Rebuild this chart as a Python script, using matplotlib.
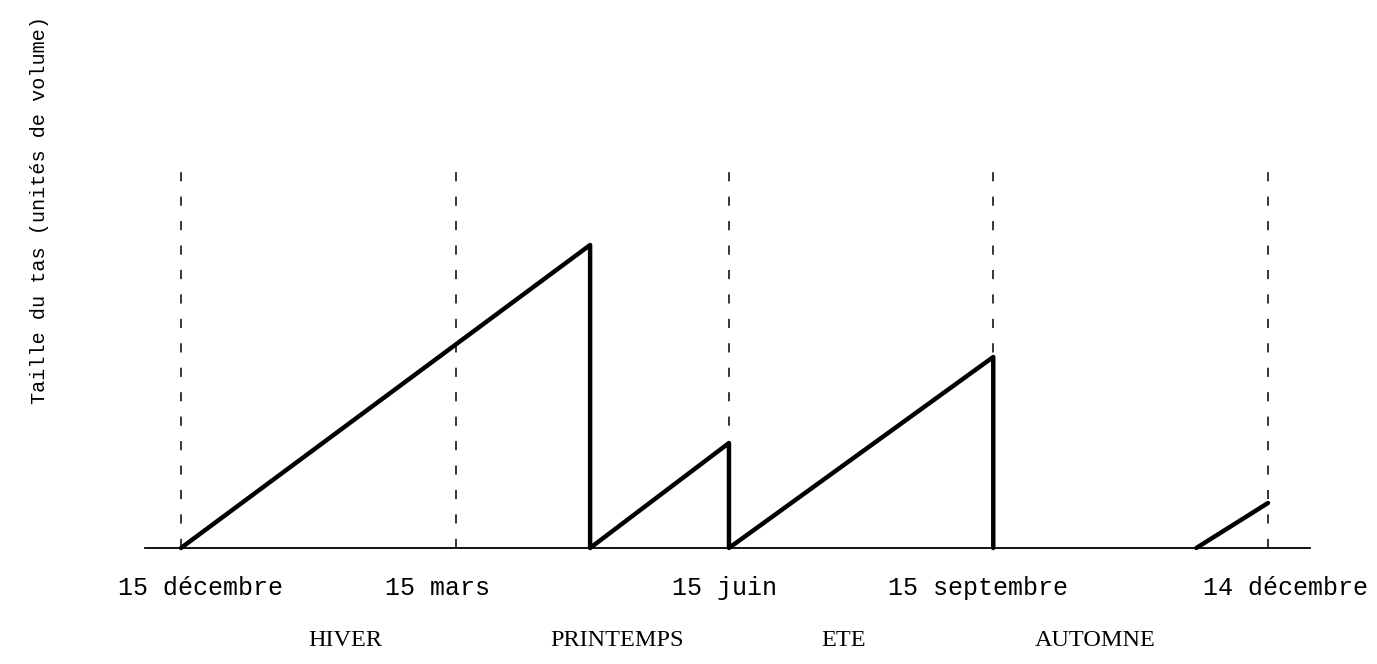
import matplotlib
matplotlib.use('Agg')
import matplotlib.pyplot as plt

# time axis in days counted from 15 decembre
tick_days = [0, 92, 183.5, 272, 364]
tick_labels = ['15 décembre', '15 mars', '15 juin', '15 septembre', '14 décembre']
seasons = ['HIVER', 'PRINTEMPS', 'ETE', 'AUTOMNE']

# heap size (arbitrary volume units)
saw_days = [0, 137, 137, 183.5, 183.5, 272, 272]
saw_size = [0, 3.03, 0, 1.05, 0, 1.91, 0]
last_days = [340, 364]
last_size = [0, 0.45]
dash_top = 3.88

# layout (label centres, in days)
label_x = [6.5, 86, 182, 267, 370]
season_x = [55, 146, 222, 306]

fig = plt.figure(figsize=(13.77, 6.64), dpi=100)
ax = fig.add_axes([0, 0, 1, 1])
ax.set_xlim(-60.6, 400.5)
ax.set_ylim(-1.16, 5.48)
ax.axis('off')

mono = ['Liberation Mono', 'DejaVu Sans Mono']
serif = ['Liberation Serif', 'DejaVu Serif']

# baseline
ax.plot([-12, 378], [0, 0], color='black', lw=1.3)

# dashed reference lines
for d in tick_days:
    ax.plot([d, d], [0, dash_top], color='black', lw=1.1,
            linestyle=(0, (6, 10)))

# sawtooth
ax.plot(saw_days, saw_size, color='black', lw=3.2, solid_joinstyle='round',
        solid_capstyle='round')
ax.plot(last_days, last_size, color='black', lw=3.2, solid_capstyle='round')

for x, lab in zip(label_x, tick_labels):
    ax.text(x, -0.4, lab, ha='center', va='center', fontsize=18,
            family=mono)

for x, lab in zip(season_x, seasons):
    ax.text(x, -0.92, lab, ha='center', va='center', fontsize=17.5,
            family=serif)

fig.text(40 / 1377, 1 - 210 / 664, 'Taille du tas (unités de volume)',
         rotation=90, ha='center', va='center', fontsize=14.5, family=mono)

fig.savefig('out.png', dpi=100)
